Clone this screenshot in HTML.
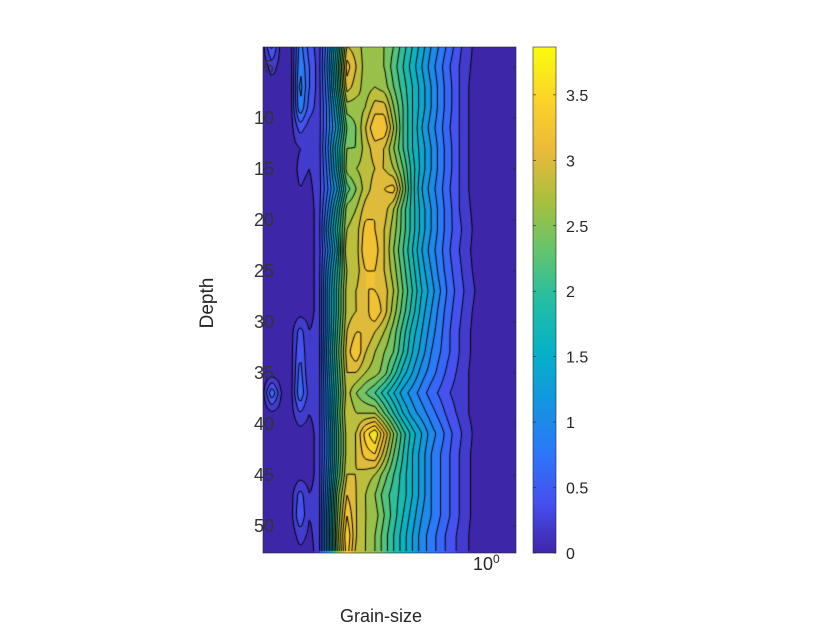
<!DOCTYPE html>
<html><head><meta charset="utf-8"><style>
body{margin:0;background:#fff;width:840px;height:630px;overflow:hidden;position:relative;font-family:"Liberation Sans",sans-serif;}
canvas{position:absolute;}
.t{position:absolute;color:#262626;font-size:16px;}
</style></head><body>
<canvas id="plot" width="253" height="506" style="left:263px;top:47px"></canvas>
<canvas id="cbar" width="23" height="506" style="left:533px;top:47px"></canvas>
<svg id="ax" width="840" height="630" style="position:absolute;left:0;top:0"></svg>
<div class="t" style="left:340px;top:606px;font-size:18px">Grain-size</div>
<div class="t" style="left:168px;top:292px;font-size:19px;transform:rotate(-90deg);width:80px;text-align:center">Depth</div>
<div class="t" style="left:473px;top:552px;font-size:18px">10<sup style="font-size:12px">0</sup></div>
<script>
const gLogStart=-1.2, gLogStep=0.05;
const depthStart=3, depthStep=2;
const yTicks=[5,10,15,20,25,30,35,40,45,50];
const cbTicks=[0,0.5,1,1.5,2,2.5,3,3.5];
const cMax=3.85;
const Z=[
[0.1,0.7,0.1,0.1,0.9,0.5,0.3,1.0,1.9,3.0,2.9,2.7,2.7,2.6,2.4,2.1,1.8,1.5,1.2,0.95,0.7,0.45,0.25,0.12,0.08,0.08,0.08,0.08],
[0.05,0.3,0.1,0.1,1.0,0.6,0.3,1.1,2.1,3.3,3.0,2.7,2.7,2.6,2.3,2.0,1.7,1.4,1.1,0.85,0.6,0.4,0.22,0.12,0.08,0.08,0.08,0.08],
[0.05,0.1,0.1,0.1,1.1,0.6,0.3,1.0,2.0,3.1,2.9,2.7,2.8,2.7,2.4,2.1,1.8,1.5,1.2,0.9,0.65,0.4,0.2,0.12,0.08,0.08,0.08,0.08],
[0.05,0.05,0.05,0.1,1.0,0.5,0.3,0.9,1.7,2.7,2.7,2.8,3.1,3.1,2.6,2.2,1.8,1.5,1.2,0.9,0.65,0.4,0.2,0.12,0.08,0.08,0.08,0.08],
[0.05,0.05,0.05,0.1,0.5,0.3,0.3,0.9,1.5,2.4,2.6,3.0,3.4,3.4,2.8,2.2,1.8,1.4,1.1,0.85,0.6,0.4,0.2,0.12,0.08,0.08,0.08,0.08],
[0.05,0.05,0.05,0.1,0.2,0.2,0.3,1.0,1.8,2.6,2.6,2.9,3.1,3.0,2.6,2.2,1.8,1.5,1.2,0.9,0.65,0.4,0.2,0.12,0.08,0.08,0.08,0.08],
[0.05,0.05,0.05,0.1,0.25,0.2,0.3,0.9,1.7,2.7,2.8,2.9,3.0,3.0,2.8,2.4,1.9,1.5,1.2,0.9,0.65,0.4,0.2,0.12,0.08,0.08,0.08,0.08],
[0.05,0.05,0.05,0.1,0.2,0.15,0.3,0.8,1.4,2.3,2.6,2.9,3.1,3.2,3.3,2.6,1.9,1.4,1.1,0.85,0.6,0.4,0.2,0.12,0.08,0.08,0.08,0.08],
[0.05,0.05,0.05,0.05,0.1,0.1,0.3,1.0,1.8,2.7,2.8,3.1,3.2,3.1,2.8,2.3,1.9,1.5,1.2,0.9,0.65,0.4,0.22,0.12,0.08,0.08,0.08,0.08],
[0.05,0.05,0.05,0.05,0.1,0.1,0.3,1.2,2.0,2.8,2.9,3.3,3.2,3.0,2.7,2.3,1.9,1.5,1.2,0.9,0.65,0.45,0.25,0.12,0.08,0.08,0.08,0.08],
[0.05,0.05,0.05,0.05,0.1,0.1,0.3,1.0,1.8,3.0,2.9,3.4,3.3,3.0,2.6,2.2,1.8,1.4,1.1,0.85,0.6,0.4,0.22,0.12,0.08,0.08,0.08,0.08],
[0.05,0.05,0.05,0.05,0.1,0.1,0.3,1.2,2.0,2.8,2.9,3.2,3.2,3.0,2.7,2.3,1.9,1.5,1.2,0.9,0.65,0.45,0.25,0.12,0.08,0.08,0.08,0.08],
[0.05,0.05,0.05,0.05,0.1,0.1,0.3,1.3,2.1,2.9,3.0,3.2,3.2,3.1,2.8,2.4,2.0,1.6,1.3,1.0,0.7,0.5,0.3,0.15,0.08,0.08,0.08,0.08],
[0.05,0.05,0.05,0.05,0.1,0.1,0.3,1.3,2.1,2.9,3.0,3.1,3.4,3.1,2.7,2.3,1.9,1.5,1.2,0.9,0.65,0.45,0.25,0.12,0.08,0.08,0.08,0.08],
[0.05,0.05,0.05,0.1,0.5,0.2,0.3,1.3,2.2,3.0,3.2,3.2,3.0,2.8,2.5,2.1,1.7,1.4,1.1,0.85,0.6,0.4,0.22,0.12,0.08,0.08,0.08,0.08],
[0.05,0.05,0.05,0.1,0.6,0.2,0.3,1.4,2.3,3.1,3.4,3.0,2.8,2.6,2.4,2.0,1.6,1.3,1.0,0.8,0.6,0.4,0.22,0.12,0.08,0.08,0.08,0.08],
[0.05,0.05,0.05,0.1,0.7,0.2,0.3,1.3,2.2,3.0,3.0,2.8,2.7,2.5,2.1,1.7,1.4,1.1,0.9,0.7,0.5,0.35,0.2,0.12,0.08,0.08,0.08,0.08],
[0.1,0.8,0.2,0.1,0.8,0.3,0.3,1.2,2.1,2.9,2.6,2.4,2.2,1.9,1.6,1.3,1.1,0.9,0.7,0.55,0.4,0.3,0.2,0.12,0.08,0.08,0.08,0.08],
[0.05,0.15,0.1,0.1,0.4,0.2,0.3,1.2,2.2,3.0,2.8,2.8,2.8,2.4,2.0,1.6,1.3,1.1,0.9,0.7,0.5,0.35,0.2,0.12,0.08,0.08,0.08,0.08],
[0.05,0.05,0.05,0.05,0.1,0.1,0.3,1.1,2.1,2.9,3.0,3.5,3.8,3.2,2.6,2.1,1.7,1.4,1.1,0.9,0.65,0.45,0.25,0.12,0.08,0.08,0.08,0.08],
[0.05,0.05,0.05,0.05,0.1,0.1,0.3,1.1,2.1,2.9,3.0,3.3,3.4,2.9,2.4,2.0,1.6,1.3,1.0,0.8,0.6,0.4,0.22,0.12,0.08,0.08,0.08,0.08],
[0.05,0.05,0.05,0.05,0.1,0.1,0.3,1.2,2.2,3.0,3.0,2.9,2.8,2.5,2.2,1.9,1.6,1.3,1.0,0.8,0.6,0.4,0.22,0.12,0.08,0.08,0.08,0.08],
[0.05,0.05,0.05,0.1,0.5,0.2,0.3,1.3,2.5,3.2,3.0,2.8,2.6,2.3,2.1,1.9,1.6,1.3,1.0,0.8,0.6,0.4,0.22,0.12,0.08,0.08,0.08,0.08],
[0.05,0.05,0.05,0.1,0.6,0.2,0.3,1.4,2.6,3.4,3.0,2.8,2.7,2.4,2.1,1.8,1.5,1.2,1.0,0.8,0.6,0.4,0.22,0.12,0.08,0.08,0.08,0.08],
[0.05,0.05,0.05,0.05,0.3,0.15,0.3,1.4,2.7,3.6,3.0,2.8,2.6,2.3,2.0,1.7,1.4,1.1,0.9,0.7,0.5,0.35,0.2,0.12,0.08,0.08,0.08,0.08],
[0.05,0.05,0.05,0.05,0.1,0.1,0.3,1.4,2.6,3.5,2.9,2.8,2.6,2.3,2.0,1.7,1.4,1.1,0.9,0.7,0.5,0.35,0.2,0.12,0.08,0.08,0.08,0.08]
];
const levelStep=0.2;
const PL=263,PT=47,PW=253,PH=506;
const xScale=lg=>PL+(lg+1.2)*187.4;
const yScale=d=>67+(d-5)*10.2;
const cScale=v=>553-v*130.9;
const anchors=[[0,62,38,168],[.1,70,80,240],[.2,45,120,250],[.3,20,150,225],[.4,6,178,200],[.5,35,190,165],[.6,100,197,110],[.7,170,192,62],[.8,236,186,58],[.9,252,212,40],[1,249,251,14]];
function parula(t){t=Math.max(0,Math.min(1,t));for(let i=1;i<anchors.length;i++){if(t<=anchors[i][0]){const a=anchors[i-1],b=anchors[i],f=(t-a[0])/(b[0]-a[0]);return [a[1]+f*(b[1]-a[1]),a[2]+f*(b[2]-a[2]),a[3]+f*(b[3]-a[3])];}}return anchors[anchors.length-1].slice(1);}
const nR=Z.length,nC=Z[0].length;
function field(px,py){
  const lg=px/187.4+gLogStart;
  let c=(lg-gLogStart)/gLogStep;
  const d=5+(py+PT-67)/10.2;
  let r=(d-depthStart)/depthStep;
  c=Math.max(0,Math.min(nC-1.0001,c));r=Math.max(0,Math.min(nR-1.0001,r));
  const c0=Math.floor(c),r0=Math.floor(r),fc=c-c0,fr=r-r0;
  const a=Z[r0][c0],b=Z[r0][c0+1],e=Z[r0+1][c0],f=Z[r0+1][c0+1];
  return (a*(1-fc)+b*fc)*(1-fr)+(e*(1-fc)+f*fc)*fr;
}
const cv=document.getElementById('plot'),ctx=cv.getContext('2d');
const img=ctx.createImageData(PW,PH);
const V=[];
for(let y=0;y<PH;y++){V.push([]);for(let x=0;x<PW;x++){const v=field(x+0.5,y+0.5);V[y].push(v);
  const lv=Math.floor(v/levelStep)*levelStep;const col=parula(lv/cMax);const k=(y*PW+x)*4;
  img.data[k]=col[0];img.data[k+1]=col[1];img.data[k+2]=col[2];img.data[k+3]=255;}}
ctx.putImageData(img,0,0);
ctx.strokeStyle='#000';ctx.lineWidth=1;ctx.beginPath();
const S=2;
for(let L=levelStep;L<cMax;L+=levelStep){
  for(let y=0;y+S<PH;y+=S)for(let x=0;x+S<PW;x+=S){
    const p=[[x,y,V[y][x]],[x+S,y,V[y][x+S]],[x+S,y+S,V[y+S][x+S]],[x,y+S,V[y+S][x]]];
    const pts=[];
    for(let i=0;i<4;i++){const a=p[i],b=p[(i+1)%4];
      if((a[2]<L)!==(b[2]<L)){const f=(L-a[2])/(b[2]-a[2]);pts.push([a[0]+f*(b[0]-a[0]),a[1]+f*(b[1]-a[1])]);}}
    if(pts.length>=2){ctx.moveTo(pts[0][0],pts[0][1]);ctx.lineTo(pts[1][0],pts[1][1]);}
    if(pts.length===4){ctx.moveTo(pts[2][0],pts[2][1]);ctx.lineTo(pts[3][0],pts[3][1]);}
  }}
ctx.stroke();
const cb=document.getElementById('cbar'),cx=cb.getContext('2d');
for(let y=0;y<PH;y++){const v=(553-(PT+y))/130.9;const c=parula(v/cMax);cx.fillStyle=`rgb(${c[0]|0},${c[1]|0},${c[2]|0})`;cx.fillRect(0,y,23,1);}
const svg=document.getElementById('ax');const NS='http://www.w3.org/2000/svg';
function mk(tag,attrs){const e=document.createElementNS(NS,tag);for(const k in attrs)e.setAttribute(k,attrs[k]);svg.appendChild(e);return e;}
const fr=mk('rect',{x:PL,y:PT,width:PW,height:PH,fill:'none',stroke:'#262626','stroke-width':0.6});


const cfr=mk('rect',{x:533,y:PT,width:23,height:PH,fill:'none',stroke:'#262626','stroke-width':0.6});


yTicks.forEach(d=>{const y=yScale(d);
  mk('line',{x1:PL,x2:PL+3,y1:y,y2:y,stroke:'#262626','stroke-width':0.6});
  mk('line',{x1:PL+PW-3,x2:PL+PW,y1:y,y2:y,stroke:'#262626','stroke-width':0.6});
  const t=mk('text',{x:PL+11,y:y+6,'text-anchor':'end','font-size':18,fill:'#333','font-family':'Liberation Sans, sans-serif'});
  t.textContent=d;
  
  
});
cbTicks.forEach(v=>{const y=cScale(v);
  mk('line',{x1:533,x2:536,y1:y,y2:y,stroke:'#262626','stroke-width':0.6});
  mk('line',{x1:553,x2:556,y1:y,y2:y,stroke:'#262626','stroke-width':0.6});
  const t=mk('text',{x:566,y:y+6,'font-size':16,fill:'#262626','font-family':'Liberation Sans, sans-serif'});
  t.textContent=v;
  
  
});
</script>
</body></html>
